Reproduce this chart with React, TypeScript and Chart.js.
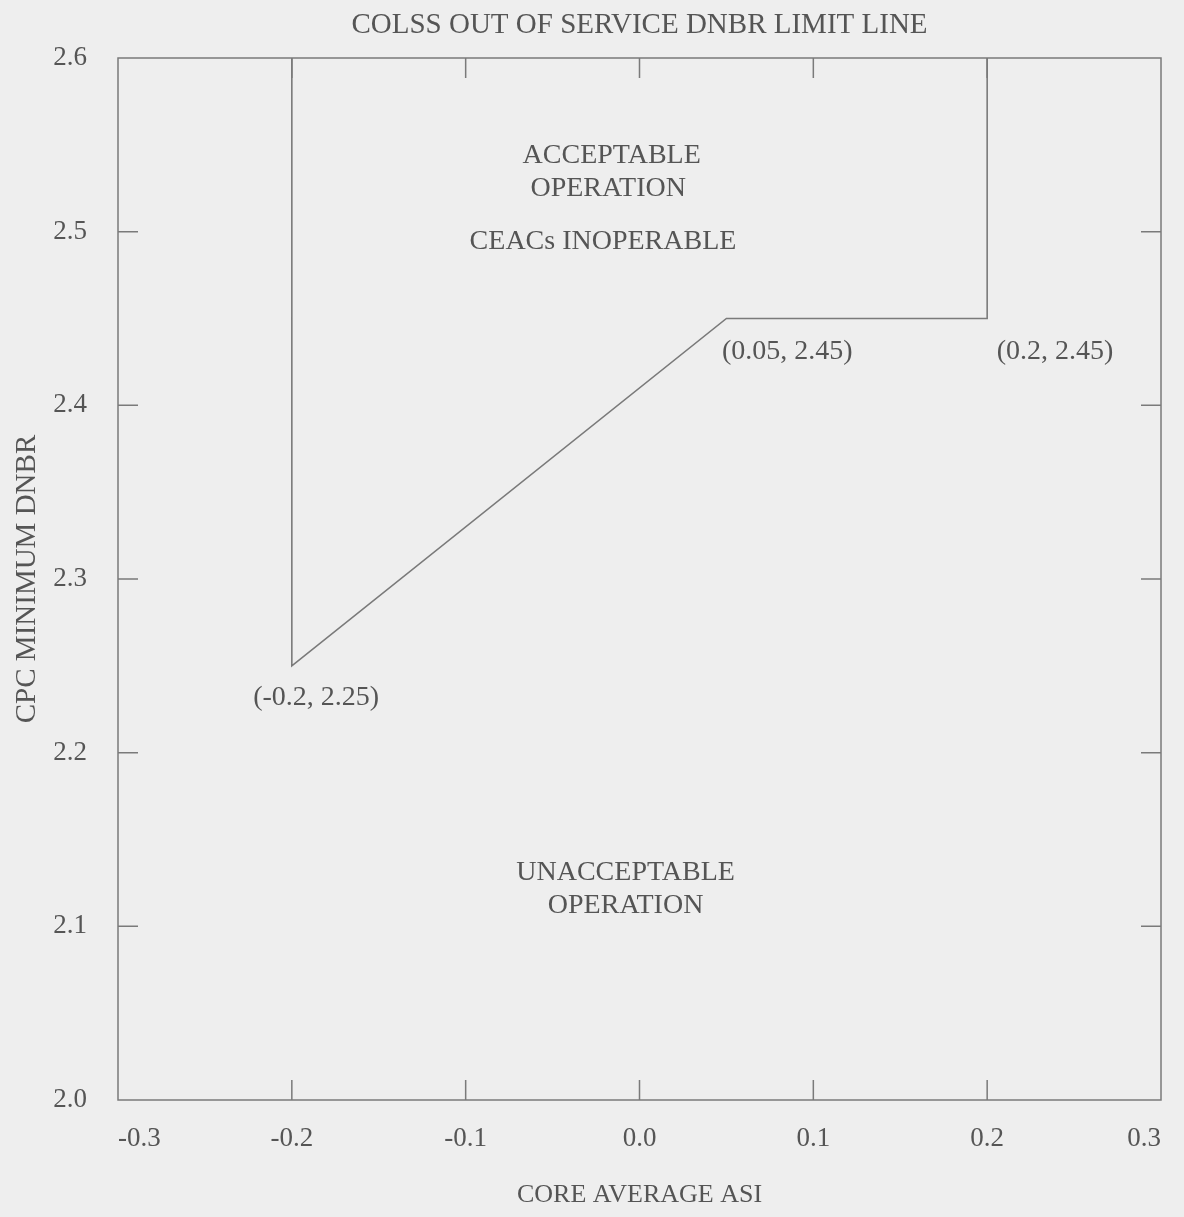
import React, { useEffect, useRef } from "react";
import { Chart, registerables } from "chart.js";

Chart.register(...registerables);

// ---- data ----
const limitAsi = [-0.2, -0.2, 0.05, 0.2, 0.2];
const limitDnbr = [2.6, 2.25, 2.45, 2.45, 2.6];

const xTickLabels = ["-0.3", "-0.2", "-0.1", "0.0", "0.1", "0.2", "0.3"];
const yTickLabels = ["2.0", "2.1", "2.2", "2.3", "2.4", "2.5", "2.6"];

const titleText = "COLSS OUT OF SERVICE DNBR LIMIT LINE";
const xTitle = "CORE AVERAGE ASI";
const yTitle = "CPC MINIMUM DNBR";

const noteTexts = [
  "ACCEPTABLE",
  "OPERATION",
  "CEACs INOPERABLE",
  "(0.05, 2.45)",
  "(0.2, 2.45)",
  "(-0.2, 2.25)",
  "UNACCEPTABLE",
  "OPERATION",
];
const noteAsi = [-0.016, -0.018, -0.021, 0.085, 0.239, -0.186, -0.008, -0.008];
const noteDnbr = [2.544, 2.525, 2.494, 2.431, 2.431, 2.2315, 2.1307, 2.1117];

const FONT = "'Liberation Serif', 'DejaVu Serif', 'Times New Roman', serif";
const TEXT = "#555555";
const LINE = "#7a7a7a";
const BG = "#eeeeee";

const bgPlugin = {
  id: "bg",
  beforeDraw(chart: any) {
    const { ctx, width, height } = chart;
    ctx.save();
    ctx.fillStyle = BG;
    ctx.fillRect(0, 0, width, height);
    ctx.restore();
  },
};

const framePlugin = {
  id: "frame",
  afterDatasetsDraw(chart: any) {
    const { ctx, chartArea } = chart;
    const { left, right, top, bottom } = chartArea;
    const xs = chart.scales.x;
    const ys = chart.scales.y;
    const len = 20;
    ctx.save();
    ctx.strokeStyle = LINE;
    ctx.lineWidth = 1.5;
    ctx.strokeRect(left, top, right - left, bottom - top);
    ctx.beginPath();
    xs.ticks.forEach((t: any) => {
      const px = xs.getPixelForValue(t.value);
      if (px <= left + 1 || px >= right - 1) return;
      ctx.moveTo(px, bottom);
      ctx.lineTo(px, bottom - len);
      ctx.moveTo(px, top);
      ctx.lineTo(px, top + len);
    });
    ys.ticks.forEach((t: any) => {
      const py = ys.getPixelForValue(t.value);
      if (py <= top + 1 || py >= bottom - 1) return;
      ctx.moveTo(left, py);
      ctx.lineTo(left + len, py);
      ctx.moveTo(right, py);
      ctx.lineTo(right - len, py);
    });
    ctx.stroke();
    ctx.restore();
  },
};

const notesPlugin = {
  id: "notes",
  afterDraw(chart: any) {
    const { ctx } = chart;
    const xs = chart.scales.x;
    const ys = chart.scales.y;
    ctx.save();
    ctx.fillStyle = TEXT;
    ctx.font = `28px ${FONT}`;
    ctx.textAlign = "center";
    ctx.textBaseline = "middle";
    noteTexts.forEach((t, i) => {
      ctx.fillText(t, xs.getPixelForValue(noteAsi[i]), ys.getPixelForValue(noteDnbr[i]));
    });
    ctx.restore();
  },
};

export default function App() {
  const ref = useRef<HTMLCanvasElement | null>(null);

  useEffect(() => {
    document.body.style.margin = "0";
    document.body.style.overflow = "hidden";
    const canvas = ref.current;
    if (!canvas) return;
    const chart = new Chart(canvas, {
      type: "scatter",
      data: {
        datasets: [
          {
            data: limitAsi.map((x, i) => ({ x, y: limitDnbr[i] })),
            showLine: true,
            borderColor: LINE,
            borderWidth: 1.6,
            pointRadius: 0,
            fill: false,
            tension: 0,
          } as any,
        ],
      },
      options: {
        animation: false,
        responsive: false,
        maintainAspectRatio: false,
        layout: { padding: { left: 0, right: 16, top: 0, bottom: 0 } },
        plugins: {
          legend: { display: false },
          tooltip: { enabled: false },
          title: {
            display: true,
            text: titleText,
            fullSize: false,
            color: TEXT,
            font: { family: FONT, size: 29, weight: "normal" as any, lineHeight: 1.2 },
            padding: { top: 7.5, bottom: 15.7 },
          },
        },
        scales: {
          x: {
            type: "linear",
            min: -0.3,
            max: 0.3,
            grid: { display: false, drawTicks: false },
            border: { display: false },
            ticks: {
              stepSize: 0.1,
              align: "inner",
              padding: 23,
              color: TEXT,
              font: { family: FONT, size: 27 },
              callback: (_v: any, i: number) => xTickLabels[i] ?? "",
            },
            title: {
              display: true,
              text: xTitle,
              color: TEXT,
              font: { family: FONT, size: 26, lineHeight: 1.2 },
              padding: { top: 0, bottom: 6 },
            },
            afterFit: (s: any) => {
              s.height = 117;
            },
          },
          y: {
            type: "linear",
            min: 2.0,
            max: 2.6,
            grid: { display: false, drawTicks: false },
            border: { display: false },
            ticks: {
              stepSize: 0.1,
              padding: 31,
              color: TEXT,
              font: { family: FONT, size: 27 },
              callback: (_v: any, i: number) => yTickLabels[i] ?? "",
            },
            title: {
              display: true,
              text: yTitle,
              color: TEXT,
              font: { family: FONT, size: 29, lineHeight: 1.2 },
              padding: { top: 10, bottom: 0 },
            },
            afterFit: (s: any) => {
              s.width = 118;
            },
          },
        },
      } as any,
      plugins: [bgPlugin, framePlugin, notesPlugin],
    });
    return () => chart.destroy();
  }, []);

  return (
    <div style={{ width: 1184, height: 1217 }}>
      <canvas ref={ref} width={1184} height={1217} style={{ display: "block" }} />
    </div>
  );
}
